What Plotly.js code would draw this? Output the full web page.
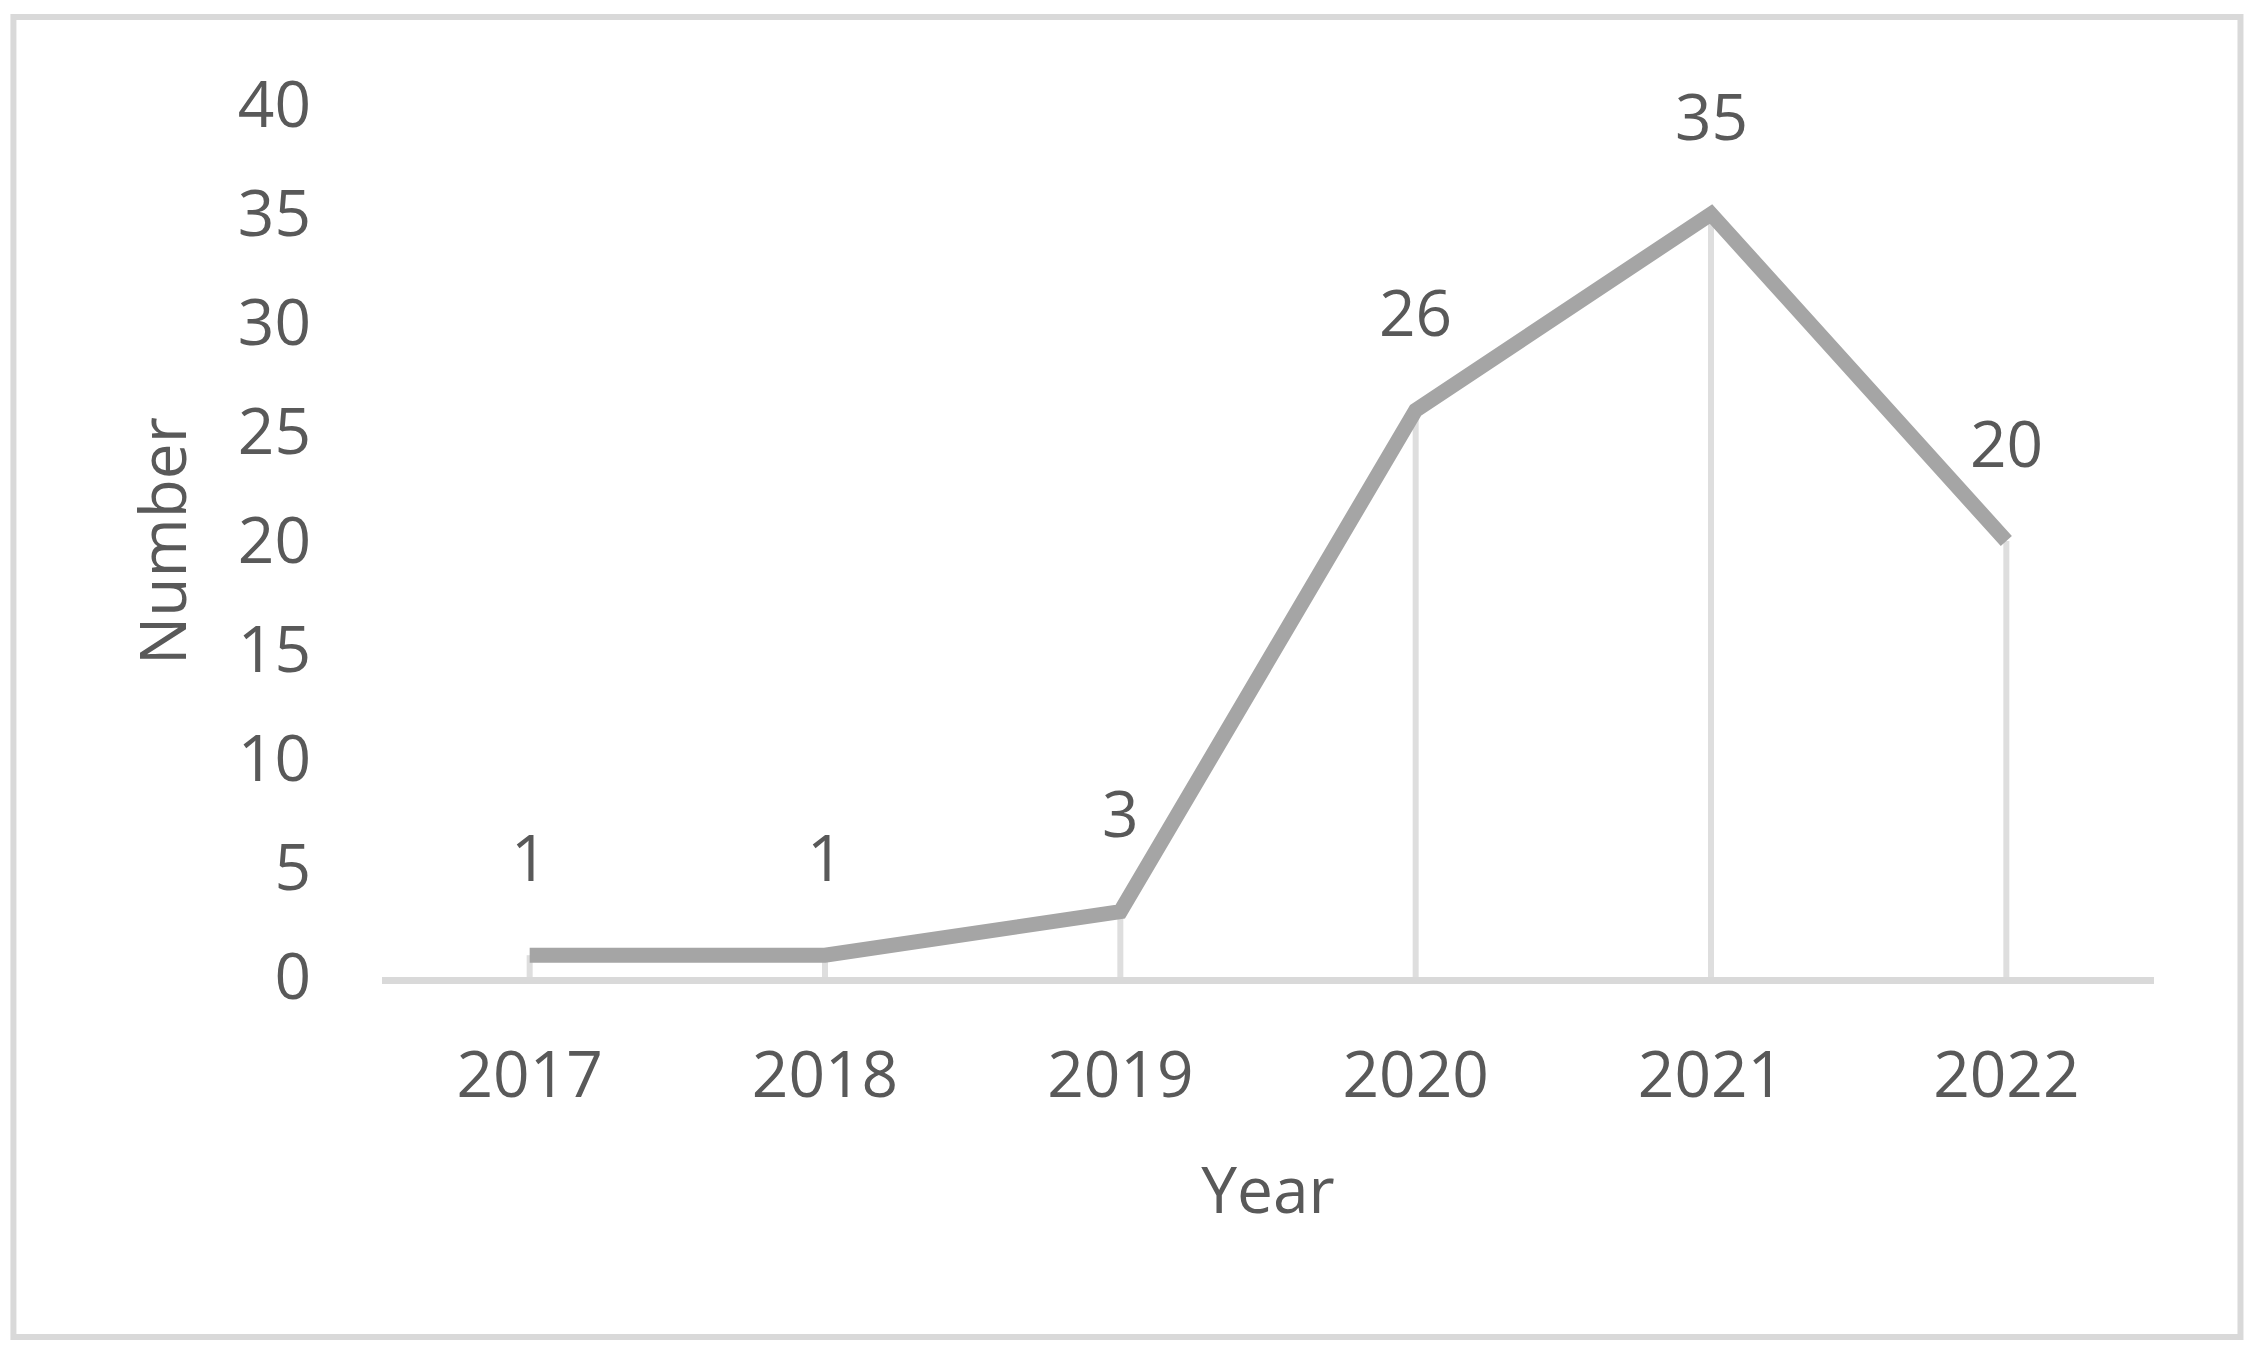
<!DOCTYPE html>
<html>
<head>
<meta charset="utf-8">
<script src="https://cdn.plot.ly/plotly-3.0.1.min.js"></script>
<style>
  html, body { margin: 0; padding: 0; background: #ffffff; }
  #chart { width: 2260px; height: 1356px; }
</style>
</head>
<body>
<div id="chart"></div>
<script>
// ---- data ----
const years = ['2017', '2018', '2019', '2020', '2021', '2022'];
const counts = [1, 1, 3, 26, 35, 20];
const yTickValues = [0, 5, 10, 15, 20, 25, 30, 35, 40];
const xTitle = 'Year';
const yTitle = 'Number';

const textColor = '#595959';
const fontFamily = '"Open Sans", "Liberation Sans", sans-serif';
const fontSize = 64;

const zeros = counts.map(() => 0);

// drop lines (drawn first, beneath the line)
const dropTrace = {
  x: years,
  y: counts,
  type: 'scatter',
  mode: 'markers',
  marker: { size: 1, opacity: 0 },
  error_y: {
    type: 'data',
    symmetric: false,
    array: zeros,
    arrayminus: counts,
    width: 0,
    thickness: 6,
    color: '#DEDEDE'
  },
  hoverinfo: 'skip',
  showlegend: false
};

const lineTrace = {
  x: years,
  y: counts,
  type: 'scatter',
  mode: 'lines',
  line: { color: '#A5A5A5', width: 15 },
  showlegend: false
};

// data labels: category axis positions are given by category index
const labelAnnotations = years.map((yr, i) => ({
  x: i,
  y: counts[i],
  xref: 'x',
  yref: 'y',
  text: String(counts[i]),
  showarrow: false,
  yshift: 99,
  font: { family: fontFamily, size: fontSize, color: textColor }
}));

const layout = {
  width: 2260,
  height: 1356,
  margin: { l: 382, r: 106, t: 105, b: 379, pad: 0 },
  paper_bgcolor: '#ffffff',
  plot_bgcolor: '#ffffff',
  font: { family: fontFamily, size: fontSize, color: textColor },
  showlegend: false,
  xaxis: {
    type: 'category',
    range: [-0.5, 5.5],
    showgrid: false,
    zeroline: false,
    showline: true,
    linecolor: '#D9D9D9',
    linewidth: 7,
    ticks: '',
    ticklabelstandoff: 36,
    tickfont: { family: fontFamily, size: fontSize, color: textColor },
    title: { text: xTitle, standoff: 56, font: { family: fontFamily, size: fontSize, color: textColor } },
    fixedrange: true
  },
  yaxis: {
    range: [0, 40],
    tickvals: yTickValues,
    ticktext: yTickValues.map(String),
    showgrid: false,
    zeroline: false,
    showline: false,
    ticks: '',
    ticklabelstandoff: 70,
    tickfont: { family: fontFamily, size: fontSize, color: textColor },
    title: { text: yTitle, standoff: 30, font: { family: fontFamily, size: fontSize, color: textColor } },
    fixedrange: true
  },
  annotations: labelAnnotations,
  shapes: [{
    type: 'rect',
    xref: 'paper', yref: 'paper',
    x0: -0.208, x1: 1.0488,
    y0: -0.4128, y1: 1.1009,
    line: { color: '#D9D9D9', width: 6 },
    fillcolor: 'rgba(0,0,0,0)',
    layer: 'below'
  }]
};

Plotly.newPlot('chart', [dropTrace, lineTrace], layout, { displayModeBar: false, staticPlot: true });
</script>
</body>
</html>
